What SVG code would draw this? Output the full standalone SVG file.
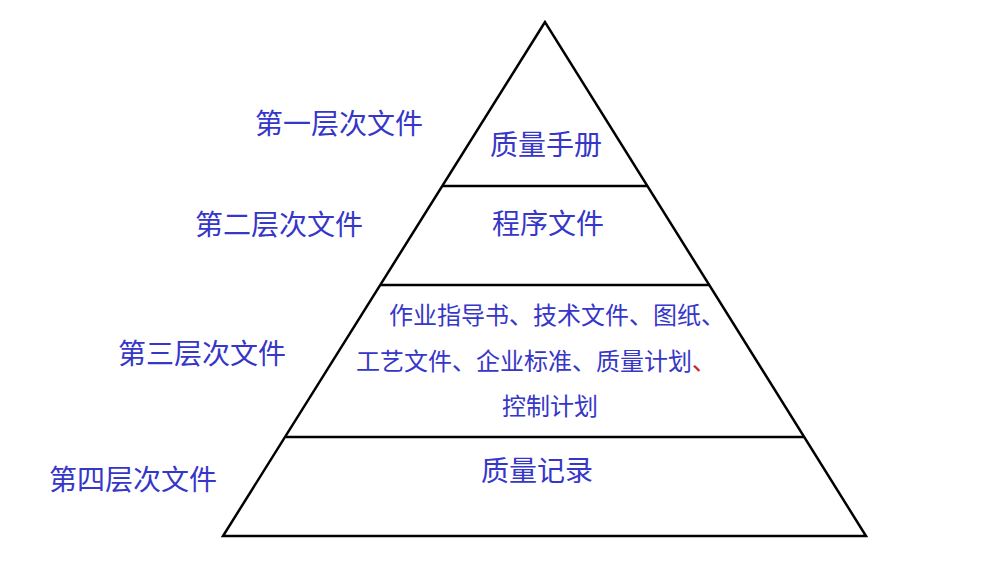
<svg xmlns="http://www.w3.org/2000/svg" width="994" height="583" viewBox="0 0 994 583">
<style>
.t{font-family:"Noto Sans CJK SC","Noto Sans",sans-serif;fill:#3636c8}
.l{font-size:28px}
.s{font-size:24px}
.e{stroke:#000;stroke-width:2.5;fill:none}
</style>
<rect width="994" height="583" fill="#fff"/>
<g id="pyramid">
<polygon class="e" points="545,22 223,536 866,536"/>
</g>
<g id="connectors">
<line class="e" x1="442" y1="186" x2="648" y2="186"/>
<line class="e" x1="381" y1="285" x2="709" y2="285"/>
<line class="e" x1="286" y1="437" x2="804" y2="437"/>
</g>
<g id="n1"><text class="t l" x="339" y="134" text-anchor="middle">第一层次文件</text><text class="t l" x="546" y="155" text-anchor="middle">质量手册</text></g>
<g id="n2"><text class="t l" x="279" y="235" text-anchor="middle">第二层次文件</text><text class="t l" x="548" y="234" text-anchor="middle">程序文件</text></g>
<g id="n3"><text class="t l" x="202" y="364" text-anchor="middle">第三层次文件</text>
<text class="t s" x="557" y="324" text-anchor="middle">作业指导书、技术文件、图纸、</text>
<text class="t s" x="536" y="370" text-anchor="middle">工艺文件、企业标准、质量计划<tspan fill="#d02020">、</tspan></text>
<text class="t s" x="550" y="415" text-anchor="middle">控制计划</text></g>
<g id="n4"><text class="t l" x="133" y="490" text-anchor="middle">第四层次文件</text><text class="t l" x="537" y="481" text-anchor="middle">质量记录</text></g>
</svg>
